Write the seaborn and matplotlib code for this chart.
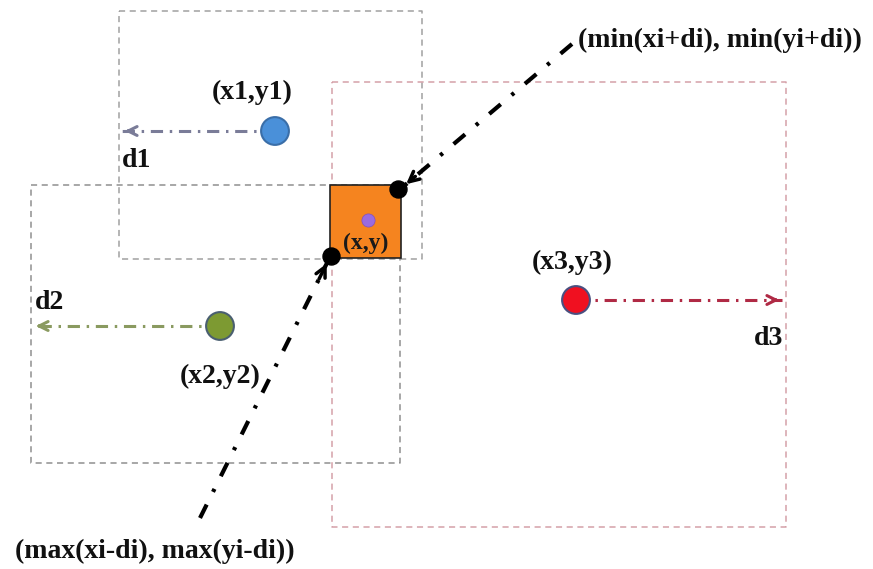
import matplotlib.pyplot as plt
import pandas as pd
import seaborn as sns

# pixel-space coordinates (y grows downward)
point_names = ["p1", "p2", "p3"]
point_x = [275, 220, 576]
point_y = [131, 326, 300]
point_colors = ["#4a90d9", "#7d9a32", "#f01020"]
point_edges = ["#3a6ea8", "#4a5f70", "#4a4f80"]
point_labels = ["(x1,y1)", "(x2,y2)", "(x3,y3)"]
label_x = [252, 220, 572]
label_y = [92, 376, 262]
range_labels = ["d1", "d2", "d3"]
range_x = [137, 50, 769]
range_y = [160, 302, 338]
arrow_end_x = [122, 33, 782]
arrow_colors = ["#7a7c98", "#8a9a60", "#b02a45"]

# neighbourhood boxes: left, right, top, bottom
box_left = [119, 31, 332]
box_right = [422, 400, 786]
box_top = [11, 185, 82]
box_bottom = [259, 463, 527]
box_colors = ["#a0a0a0", "#909090", "#d4a0a8"]

# intersection square and its corners
square = [330, 401, 185, 258]
center = (368, 220)
corner_x = [398, 331]
corner_y = [189, 256]

# bound arrows: start -> corner
bound_start_x = [572, 200]
bound_start_y = [44, 518]
bound_end_x = [404, 328]
bound_end_y = [186, 261]
bound_labels = ["(min(xi+di), min(yi+di))", "(max(xi-di), max(yi-di))"]
bound_label_x = [578, 155]
bound_label_y = [40, 551]

sns.set_style("white")
plt.rcParams["font.family"] = ["Liberation Serif", "DejaVu Serif"]

fig = plt.figure(figsize=(8.73, 5.69), dpi=100)
ax = fig.add_axes([0, 0, 1, 1])
ax.set_xlim(0, 873)
ax.set_ylim(569, 0)
ax.axis("off")

for l, r, t, b, c in zip(box_left, box_right, box_top, box_bottom, box_colors):
    ax.plot([l, r, r, l, l], [t, t, b, b, t], color=c, lw=1.1,
            dashes=(4, 3), zorder=1)

ax.add_patch(plt.Rectangle((square[0], square[2]), square[1] - square[0],
                           square[3] - square[2], facecolor="#f5841f",
                           edgecolor="#222222", lw=1.2, zorder=2))
ax.scatter([center[0]], [center[1]], s=90, color="#9a6be0", zorder=3,
           edgecolor="#8050c0", lw=0.5)
ax.text(366, 243, "(x,y)", fontsize=17, fontweight="bold", ha="center",
        va="center", color="#1a1a1a", zorder=4)

# colored range arrows
for px, py, ex, c in zip(point_x, point_y, arrow_end_x, arrow_colors):
    ax.plot([px, ex], [py, py], color=c, lw=2.2, dashes=(4, 2.2, 0.8, 2.2),
            zorder=2)
    d = -1 if ex < px else 1
    ax.annotate("", xy=(ex, py), xytext=(ex - d * 12, py),
                arrowprops=dict(arrowstyle="->", color=c, lw=2.2,
                                mutation_scale=16), zorder=2)

pts = pd.DataFrame({"x": point_x, "y": point_y, "name": point_names})
sns.scatterplot(data=pts, x="x", y="y", hue="name",
                palette=dict(zip(point_names, point_colors)), s=400,
                edgecolor=point_edges, linewidth=1.5, legend=False,
                zorder=5, ax=ax)
ax.set_xlabel("")
ax.set_ylabel("")

for t, x, y in zip(point_labels, label_x, label_y):
    ax.text(x, y, t, fontsize=20, fontweight="bold", ha="center",
            va="center", color="#111111")
for t, x, y in zip(range_labels, range_x, range_y):
    ax.text(x, y, t, fontsize=20, fontweight="bold", ha="center",
            va="center", color="#111111")

# black bound arrows
for sx, sy, ex, ey in zip(bound_start_x, bound_start_y, bound_end_x, bound_end_y):
    ax.plot([sx, ex], [sy, ey], color="black", lw=3, dashes=(3.6, 3.4, 0.8, 3.4),
            zorder=6)
    fx = ex + (sx - ex) * 0.08
    fy = ey + (sy - ey) * 0.08
    ax.annotate("", xy=(ex, ey), xytext=(fx, fy),
                arrowprops=dict(arrowstyle="->", color="black", lw=2.5,
                                mutation_scale=18), zorder=6)

ax.scatter(corner_x, corner_y, s=150, color="black", zorder=7)

ax.text(bound_label_x[0], bound_label_y[0], bound_labels[0], fontsize=20,
        fontweight="bold", ha="left", va="center", color="#111111")
ax.text(bound_label_x[1], bound_label_y[1], bound_labels[1], fontsize=20,
        fontweight="bold", ha="center", va="center", color="#111111")

fig.savefig("out.png", dpi=100)
